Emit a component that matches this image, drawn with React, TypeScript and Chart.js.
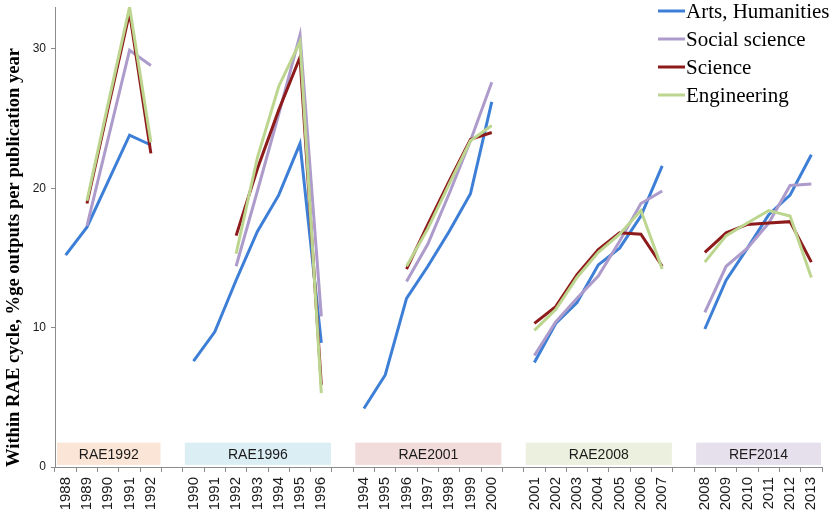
import * as React from 'react';
import { Chart, registerables } from 'chart.js';

Chart.register(...registerables);

// categories: one blank slot between assessment cycles
const years = [
    '1988', '1989', '1990', '1991', '1992', '',
    '1990', '1991', '1992', '1993', '1994', '1995', '1996', '',
    '1994', '1995', '1996', '1997', '1998', '1999', '2000', '',
    '2001', '2002', '2003', '2004', '2005', '2006', '2007', '',
    '2008', '2009', '2010', '2011', '2012', '2013'
];

const cycleNames = ['RAE1992', 'RAE1996', 'RAE2001', 'RAE2008', 'REF2014'];
const cycleFirst = [0, 6, 14, 22, 30];
const cycleLast = [4, 12, 20, 28, 35];
const cycleColors = ['#fbe5d6', '#dbeef4', '#f2dcdb', '#ebf1de', '#e5e0ec'];

const arts = [
    15.2, 17.2, 20.5, 23.8, 23.1, null,
    7.6, 9.7, 13.4, 16.9, 19.5, 23.2, 8.9, null,
    4.2, 6.6, 12.1, 14.4, 16.9, 19.6, 26.2, null,
    7.5, 10.3, 11.8, 14.5, 15.7, 18.0, 21.6, null,
    9.9, 13.4, 15.7, 18.1, 19.5, 22.4
];
const social = [
    null, 17.3, 23.6, 29.9, 28.8, null,
    null, null, 14.4, 19.8, 25.3, 31.0, 10.8, null,
    null, null, 13.3, 16.0, 19.6, 23.4, 27.6, null,
    8.0, 10.4, 12.1, 13.7, 16.2, 18.9, 19.8, null,
    11.1, 14.4, 15.7, 17.5, 20.2, 20.3
];
const science = [
    null, 18.9, 25.8, 32.6, 22.5, null,
    null, null, 16.6, 21.4, 25.6, 29.4, 5.9, null,
    null, null, 14.2, 17.4, 20.5, 23.5, 24.0, null,
    10.3, 11.5, 13.8, 15.6, 16.8, 16.7, 14.4, null,
    15.4, 16.8, 17.4, 17.5, 17.6, 14.7
];
const engineering = [
    null, 19.1, 26.1, 33.0, 23.3, null,
    null, null, 15.3, 22.2, 27.3, 30.5, 5.3, null,
    null, null, 14.4, 17.1, 20.3, 23.4, 24.5, null,
    9.8, 11.3, 13.6, 15.4, 16.7, 18.4, 14.2, null,
    14.7, 16.6, 17.5, 18.4, 18.0, 13.6
];

const yTicks = [0, 10, 20, 30];

const cycleBoxes = {
    id: 'cycleBoxes',
    beforeDatasetsDraw(chart: any) {
        const { ctx, scales } = chart;
        const x = scales.x;
        const y = scales.y;
        const half = (x.getPixelForValue(1) - x.getPixelForValue(0)) / 2;
        const top = y.getPixelForValue(1.75);
        const bottom = y.getPixelForValue(0.15);
        ctx.save();
        cycleNames.forEach((name, i) => {
            const left = x.getPixelForValue(cycleFirst[i]) - half + 2;
            const right = x.getPixelForValue(cycleLast[i]) + half - 1;
            ctx.fillStyle = cycleColors[i];
            ctx.fillRect(left, top, right - left, bottom - top);
            ctx.fillStyle = '#1a1a1a';
            ctx.font = '14px "Liberation Sans"';
            ctx.textAlign = 'center';
            ctx.textBaseline = 'middle';
            ctx.fillText(name, (left + right) / 2, (top + bottom) / 2 + 1);
        });
        ctx.restore();
    }
};

const sideLegend = {
    id: 'sideLegend',
    afterDraw(chart: any) {
        const ctx = chart.ctx;
        ctx.save();
        ctx.font = '21px "Liberation Serif"';
        ctx.textBaseline = 'middle';
        ctx.textAlign = 'left';
        chart.data.datasets.forEach((ds: any, i: number) => {
            const yy = 11 + i * 28;
            ctx.strokeStyle = ds.borderColor;
            ctx.lineWidth = 3;
            ctx.beginPath();
            ctx.moveTo(658, yy);
            ctx.lineTo(685, yy);
            ctx.stroke();
            ctx.fillStyle = '#000';
            ctx.fillText(ds.label, 686, yy + 1);
        });
        ctx.restore();
    }
};

export default function App() {
    const canvasRef = React.useRef<HTMLCanvasElement>(null);

    React.useEffect(() => {
        if (!canvasRef.current) return;
        const line = (label: string, data: (number | null)[], color: string, order: number) => ({
            label,
            data,
            borderColor: color,
            backgroundColor: color,
            borderWidth: 3,
            pointRadius: 0,
            pointHoverRadius: 0,
            tension: 0,
            spanGaps: false,
            order
        });
        const chart = new Chart(canvasRef.current, {
            type: 'line',
            data: {
                labels: years,
                datasets: [
                    line('Arts, Humanities', arts, '#3d7fd6', 4),
                    line('Social science', social, '#ad9ccb', 3),
                    line('Science', science, '#8e1b1b', 2),
                    line('Engineering', engineering, '#bdd68f', 1)
                ]
            },
            options: {
                responsive: false,
                animation: false,
                layout: { padding: { top: 7, right: 13, left: 0, bottom: 0 } },
                plugins: {
                    legend: { display: false },
                    tooltip: { enabled: false }
                },
                scales: {
                    x: {
                        type: 'category',
                        offset: true,
                        afterFit: (s: any) => { s.height = 45; },
                        grid: {
                            offset: true,
                            drawOnChartArea: false,
                            tickLength: 5,
                            color: '#8c8c8c'
                        },
                        border: { color: '#8c8c8c', width: 1 },
                        ticks: {
                            autoSkip: false,
                            minRotation: 90,
                            maxRotation: 90,
                            padding: 5,
                            color: '#1a1a1a',
                            font: { family: 'Liberation Sans', size: 15 }
                        }
                    },
                    y: {
                        min: 0,
                        max: 33,
                        afterFit: (s: any) => {
                            s.width = 55;
                            s.paddingTop = 0;
                            s.paddingBottom = 0;
                        },
                        afterBuildTicks: (s: any) => { s.ticks = yTicks.map((v) => ({ value: v })); },
                        grid: {
                            drawOnChartArea: false,
                            tickLength: 4,
                            color: '#8c8c8c'
                        },
                        border: { color: '#8c8c8c', width: 1 },
                        ticks: {
                            padding: 5,
                            color: '#1a1a1a',
                            font: { family: 'Liberation Sans', size: 12 }
                        },
                        title: {
                            display: true,
                            align: 'start',
                            text: 'Within RAE cycle, %ge outputs per publication year',
                            color: '#000',
                            padding: { top: 3, bottom: 0 },
                            font: { family: 'Liberation Serif', size: 18.6, weight: 'bold' }
                        }
                    }
                }
            },
            plugins: [cycleBoxes, sideLegend]
        });
        return () => {
            chart.destroy();
        };
    }, []);

    return (
        <div style={{ position: 'fixed', left: 0, top: 0, width: 835, height: 512, background: '#fff' }}>
            <canvas ref={canvasRef} width={835} height={512}></canvas>
        </div>
    );
}
